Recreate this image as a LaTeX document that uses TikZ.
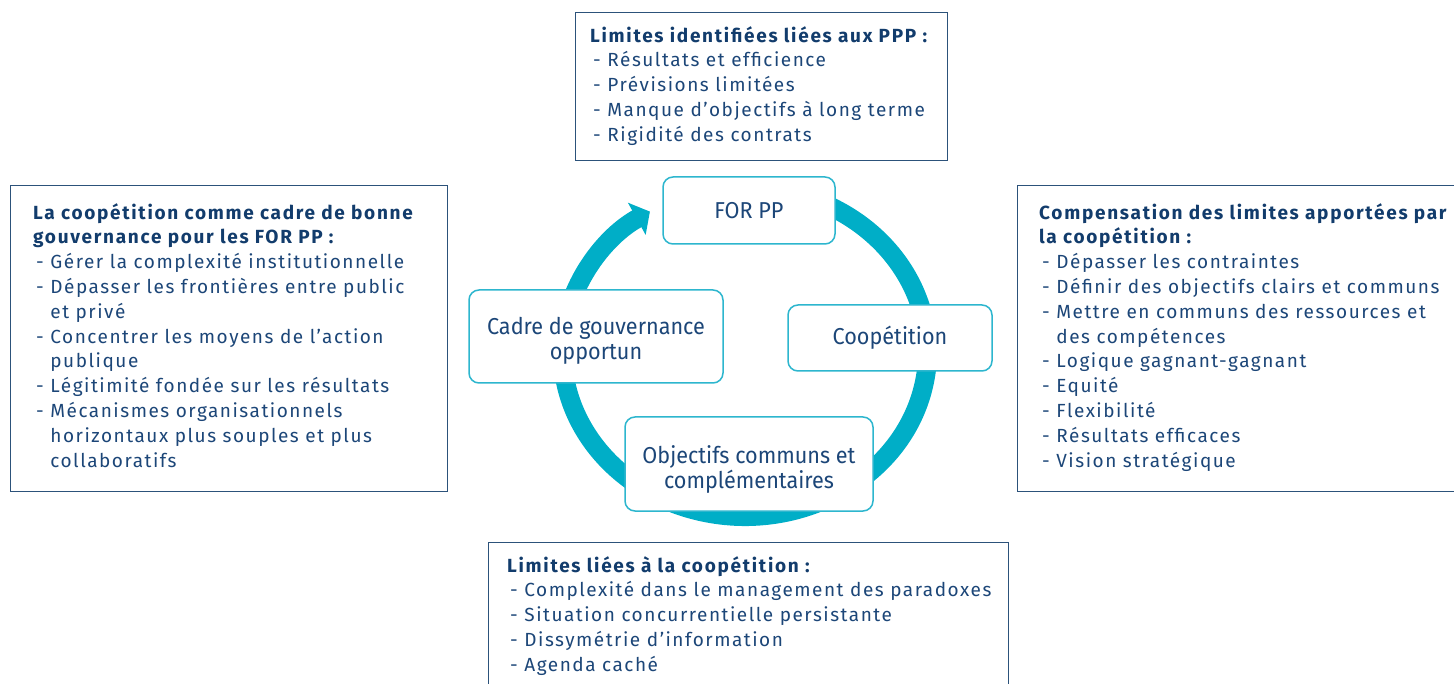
\documentclass[tikz,border=0pt]{standalone}
\usepackage{fontspec}
\setmainfont{Fira Sans}[LetterSpace=8, BoldFeatures={LetterSpace=9}]
\newfontfamily\stagefont{Fira Sans}[FakeStretch=0.94]
\usetikzlibrary{arrows.meta}
\definecolor{navy}{RGB}{28,70,120}
\definecolor{titlec}{RGB}{18,60,108}
\definecolor{framec}{RGB}{44,82,122}
\definecolor{ringc}{RGB}{0,174,199}
\definecolor{tealline}{RGB}{45,182,206}
\newcommand\bitem{\hspace*{3pt}- }
\newcommand\bcont{\hspace*{3pt}\phantom{- }}
\newcommand\btitle[1]{\textbf{\color{titlec}#1}}
\begin{document}
\begin{tikzpicture}[x=1pt,y=-1pt,
  frame/.style={draw=framec, line width=1.3pt, fill=white, anchor=north west, inner sep=0pt},
  listtext/.style={anchor=north west, inner sep=0pt, align=left, text=navy,
    font=\fontsize{19}{24.8}\selectfont},
  stage/.style={draw=tealline, line width=1.5pt, fill=white, rounded corners=10pt, inner sep=0pt},
  stagetext/.style={text=navy, align=center, inner sep=0pt,
    font=\stagefont\fontsize{23}{25}\selectfont},
]
\useasboundingbox (0,0) rectangle (1454,684);
\clip (0,0) rectangle (1454,684);

% outer frames
\node[frame, minimum width=372pt, minimum height=148pt] (tframe) at (575,12) {};
\node[frame, minimum width=437pt, minimum height=306pt] (lframe) at (10,185) {};
\node[frame, minimum width=460pt, minimum height=306pt] (rframe) at (1017,185) {};
\node[frame, minimum width=520pt, minimum height=160pt] (bframe) at (488,542) {};

% cycle ring
\coordinate (cyc) at (745,352);
\draw[ringc, line width=19pt, -{Triangle[length=15pt,width=36pt]}]
  ([shift={(-75:182.5 and 164.5)}]cyc) arc[start angle=-75, end angle=238.6,
  x radius=182.5, y radius=164.5];

% stages of the cycle
\node[stage, minimum width=172pt, minimum height=67pt] (forpp) at (749,210.5) {};
\node[stage, minimum width=204pt, minimum height=66pt] (coop) at (890,338) {};
\node[stage, minimum width=248pt, minimum height=94pt] (obj) at (749,464) {};
\node[stage, minimum width=254pt, minimum height=93pt] (cadre) at (596,336.5) {};
\node[stagetext] (forppt) at (forpp.center) {FOR PP};
\node[stagetext] (coopt) at (coop.center) {Coopétition};
\node[stagetext, yshift=-5pt] (objt) at (obj.center) {Objectifs communs et\\complémentaires};
\node[stagetext, yshift=-4pt] (cadret) at (cadre.center) {Cadre de gouvernance\\opportun};

% frame contents
\node[listtext] (ttext) at (590,24.6) {\btitle{Limites identifiées liées aux PPP :}\strut\\
  \bitem Résultats et efficience\\
  \bitem Prévisions limitées\\
  \bitem Manque d’objectifs à long terme\\
  \bitem Rigidité des contrats};

\node[listtext] (ltext) at (33,201.6) {\btitle{La coopétition comme cadre de bonne}\strut\\
  \btitle{gouvernance pour les FOR PP :}\\
  \bitem Gérer la complexité institutionnelle\\
  \bitem Dépasser les frontières entre public\\
  \bcont et privé\\
  \bitem Concentrer les moyens de l’action\\
  \bcont publique\\
  \bitem Légitimité fondée sur les résultats\\
  \bitem Mécanismes organisationnels\\
  \bcont horizontaux plus souples et plus\\
  \bcont collaboratifs};

\node[listtext] (rtext) at (1039,201.6) {\btitle{Compensation des limites apportées par}\strut\\
  \btitle{la coopétition :}\\
  \bitem Dépasser les contraintes\\
  \bitem Définir des objectifs clairs et communs\\
  \bitem Mettre en communs des ressources et\\
  \bcont des compétences\\
  \bitem Logique gagnant-gagnant\\
  \bitem Equité\\
  \bitem Flexibilité\\
  \bitem Résultats efficaces\\
  \bitem Vision stratégique};

\node[listtext] (btext) at (507,554.6) {\btitle{Limites liées à la coopétition :}\strut\\
  \bitem Complexité dans le management des paradoxes\\
  \bitem Situation concurrentielle persistante\\
  \bitem Dissymétrie d’information\\
  \bitem Agenda caché};
\end{tikzpicture}
\end{document}
